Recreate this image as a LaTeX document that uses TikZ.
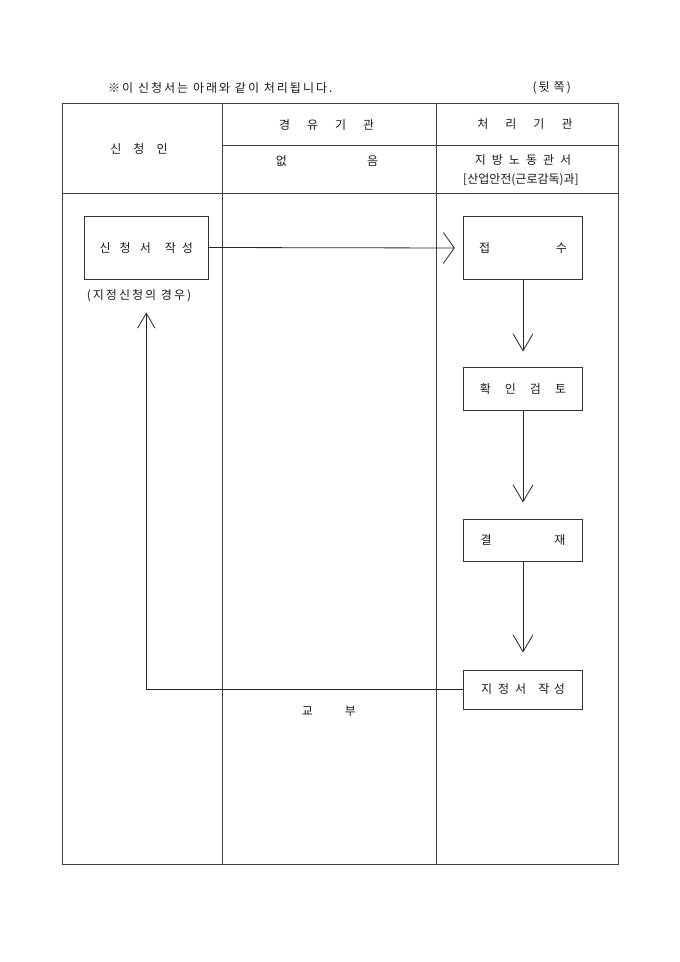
\documentclass[tikz,border=0pt]{standalone}
\usepackage{fontspec}
\setmainfont{Noto Sans CJK KR}
\newfontfamily\krls[LetterSpace=17]{Noto Sans CJK KR}
\usetikzlibrary{arrows.meta}
\newcommand{\g}[1]{\hspace{#1pt}}
\tikzset{
  every node/.style={font=\fontsize{12}{14}\selectfont, text=black!90, inner sep=0pt},
  spaced/.style={font=\fontsize{12}{14}\selectfont\krls},
  tline/.style={draw=black!75, line width=0.9pt},
  box/.style={draw=black!80, line width=0.9pt, minimum width=118.5pt, inner sep=0pt},
  conn/.style={draw=black!85, line width=0.8pt},
  harr/.style={conn, -{Straight Barb[length=11pt, width=31pt]}},
  varr/.style={conn, -{Straight Barb[length=17pt, width=20pt]}},
  uarr/.style={conn, -{Straight Barb[length=15pt, width=17.5pt]}},
}
\begin{document}
\begin{tikzpicture}[x=1pt, y=-1pt]
\useasboundingbox (0,0) rectangle (680,962);
% table
\draw[tline] (62,103.3) rectangle (618.5,864);
\draw[tline] (222,103.3) -- (222,864);
\draw[tline] (436.5,103.3) -- (436.5,864);
\draw[tline] (62,193.3) -- (618.5,193.3);
\draw[tline] (222,145.7) -- (618.5,145.7);
% top texts
\node[spaced, anchor=west] (title) at (108,88) {※이 신청서는 아래와 같이 처리됩니다.};
\node[spaced] (back) at (551.7,88) {(뒷\g{4}쪽)};
% header
\node (h1) at (139,149) {신\g{12}청\g{12}인};
\node (h2) at (326.7,125) {경\g{17}유\g{17}기\g{17}관};
\node (h3) at (525,124) {처\g{17}리\g{17}기\g{17}관};
\node (h4) at (327,161) {없\g{80}음};
\node (h5) at (523,160) {지\g{6}방\g{6}노\g{6}동\g{6}관\g{6}서};
\node (h6) at (521,179.5) {[산업안전(근로감독)과]};
% boxes
\node[box, minimum width=124pt, minimum height=63pt] (b1) at (146.3,247.5) {신\g{9}청\g{9}서\g{14}작\g{6}성};
\node[spaced] (note) at (139,296) {(지정신청의 경우)};
\node[box, minimum height=63pt] (jeob) at (523,248) {접\g{65.5}수};
\node[box, minimum height=43pt] (hwak) at (523,389) {확\g{14}인\g{14}검\g{14}토};
\node[box, minimum height=42.7pt] (gyeol) at (523,540.3) {결\g{62.5}재};
\node[box, minimum height=39pt] (jij) at (523,689.5) {지\g{6}정\g{6}서\g{12}작\g{4.5}성};
\node (gyobu) at (329,711) {교\g{32}부};
% connectors
\draw[harr, shorten >=8.5pt] (b1.east) -- (jeob.west);
\draw[varr, shorten >=15.5pt] (jeob.south) -- (hwak.north);
\draw[varr, shorten >=16pt] (hwak.south) -- (gyeol.north);
\draw[varr, shorten >=17pt] (gyeol.south) -- (jij.north);
\draw[uarr, shorten >=33pt] (jij.west) -| (b1.south);
\end{tikzpicture}
\end{document}
